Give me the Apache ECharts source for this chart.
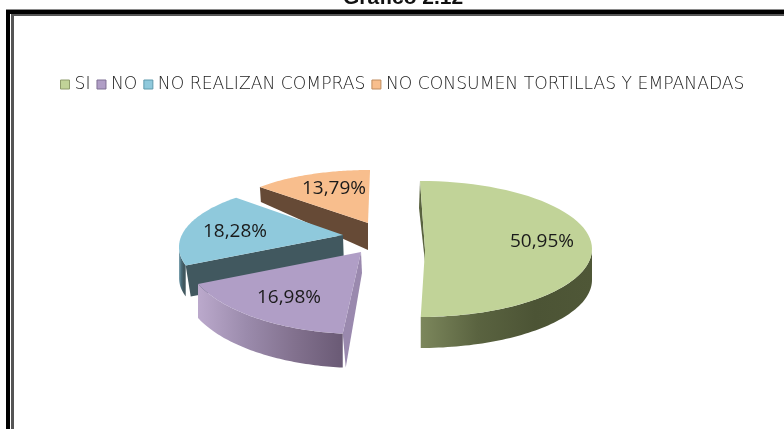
<!DOCTYPE html>
<html><head><meta charset="utf-8">
<style>html,body{margin:0;padding:0;background:#fff}#c{width:784px;height:429px}</style>
<script src="https://cdn.jsdelivr.net/npm/echarts@6/dist/echarts.min.js"></script>
</head><body><div id="c"></div>
<script>
const titleText = 'Gráfico 2.12';
const categories = ['SI', 'NO', 'NO REALIZAN COMPRAS', 'NO CONSUMEN TORTILLAS Y EMPANADAS'];
const values = [50.95, 16.98, 18.28, 13.79];
const valueLabels = ['50,95%', '16,98%', '18,28%', '13,79%'];
const topColors = ['#c1d398', '#b09ec6', '#8fc9dc', '#f8be8d'];
const legendBorders = ['#8f9c6c', '#7f7094', '#5f9aac', '#c08c5e'];

// Drawing order is back to front; each slice has its own exploded placement.
const drawOrder = [3, 2, 1, 0];
const layouts = [
  {cx:420,cy:249,tx:425,ty:250,rx:172,ry:68,rot:0,scale:.98,depth:31,lx:542,ly:242,
   rim:['#7c875c','#5a6340','#4c5435','#4f5737'],
   cuts:[{end:0,rimD:27,rimDx:-1,tipD:12,color:'#59623f'}]},
  {cx:361,cy:252,tx:361,ty:252,rx:177,ry:82,rot:2.5,scale:1,depth:34,lx:289,ly:298,
   rim:['#bba9cc','#9b8bac','#82718e','#6a5a75'],
   cuts:[{end:0,rimD:34,rimDx:3,tipD:21,color:'#9a89ae'}]},
  {cx:343,cy:247,tx:343,ty:235,rx:164,ry:65,rot:9,scale:1,depth:31,lx:235,ly:232,
   rim:['#7fa4b2','#4a6d7a','#42585f','#42585f'],
   cuts:[{end:0,rimD:31,rimDx:5,tipD:33,color:'#41585f'}]},
  {cx:370,cy:222,tx:368,ty:223,rx:149,ry:52,rot:2,scale:.96,depth:27,lx:334,ly:189,
   rim:['#664a36','#664a36','#664a36','#664a36'],
   cuts:[{end:0,rimD:15,rimDx:1,tipD:27,color:'#664a36'}]}
];

const total = values.reduce((a,b)=>a+b,0);
const rad = Math.PI/180;
function sliceAngles(i){
  const before = values.slice(0,i).reduce((a,b)=>a+b,0);
  return [before/total*360, (before+values[i])/total*360];
}
function rimPoint(L,t){
  return [L.cx + L.rx*Math.sin(t*rad), L.cy - L.ry*Math.cos(t*rad)];
}
function renderSlice(i){
  return function(params, api){
    const L = layouts[i];
    const base = sliceAngles(i);
    const sweep = api.value(0)/total*360*L.scale;
    const t0 = base[0]+L.rot, t1 = t0+sweep;
    const children = [];
    const N = 60;
    const arc = [];
    for(let k=0;k<=N;k++) arc.push(rimPoint(L, t0+(t1-t0)*k/N));
    L.cuts.forEach(c=>{
      const p = rimPoint(L, c.end ? t1 : t0);
      children.push({type:'polygon',shape:{points:[
        [L.tx,L.ty],p,[p[0]+c.rimDx,p[1]+c.rimD],[L.tx+(c.rimDx>1?1:0),L.ty+c.tipD]]},
        style:{fill:c.color}});
    });
    const a = Math.max(t0,90), b = Math.min(t1,270);
    if(b>a){
      const up=[],down=[];
      for(let k=0;k<=N;k++){
        const p = rimPoint(L, a+(b-a)*k/N);
        up.push(p); down.unshift([p[0],p[1]+L.depth]);
      }
      const stops = L.rim.map((c,k)=>({offset:k/(L.rim.length-1),color:c}));
      children.push({type:'polygon',shape:{points:up.concat(down)},
        style:{fill:new echarts.graphic.LinearGradient(0,0,1,0,stops)}});
    }
    children.push({type:'polygon',shape:{points:[[L.tx,L.ty]].concat(arc)},
      style:{fill:topColors[i]}});
    children.push({type:'text',style:{x:L.lx,y:L.ly,text:valueLabels[i],
      align:'center',verticalAlign:'middle',fill:'#1a1a1a',
      font:'19px "Open Sans", sans-serif'}});
    return {type:'group',children};
  };
}

const chart = echarts.init(document.getElementById('c'),null,{renderer:'canvas'});
chart.setOption({
  animation:false,
  backgroundColor:'#fff',
  title:{text:titleText,left:338,top:-17,
    textStyle:{fontFamily:'Liberation Sans',fontWeight:'bold',fontSize:21,color:'#111'}},
  legend:{
    data:categories.map((n,i)=>({name:n,icon:'rect',
      itemStyle:{color:topColors[i],borderColor:legendBorders[i],borderWidth:1}})),
    left:55,top:71,itemWidth:9,itemHeight:9,itemGap:6,
    textStyle:{fontFamily:'DejaVu Sans',fontWeight:200,fontSize:17.2,color:'#222'}
  },
  graphic:[
    {type:'rect',shape:{x:6,y:9,width:778,height:1},style:{fill:'#8a8a8a'},silent:true},
    {type:'rect',shape:{x:6,y:10,width:778,height:4},style:{fill:'#000'},silent:true},
    {type:'rect',shape:{x:11,y:14,width:773,height:2},style:{fill:'#555'},silent:true},
    {type:'rect',shape:{x:6,y:10,width:4,height:419},style:{fill:'#000'},silent:true},
    {type:'rect',shape:{x:11,y:14,width:3,height:415},style:{fill:'#555'},silent:true}
  ],
  series:drawOrder.map(i=>({
    type:'custom',name:categories[i],coordinateSystem:'none',
    itemStyle:{color:topColors[i]},
    data:[[values[i]]],
    renderItem:renderSlice(i),
    silent:true
  }))
});
</script></body></html>
